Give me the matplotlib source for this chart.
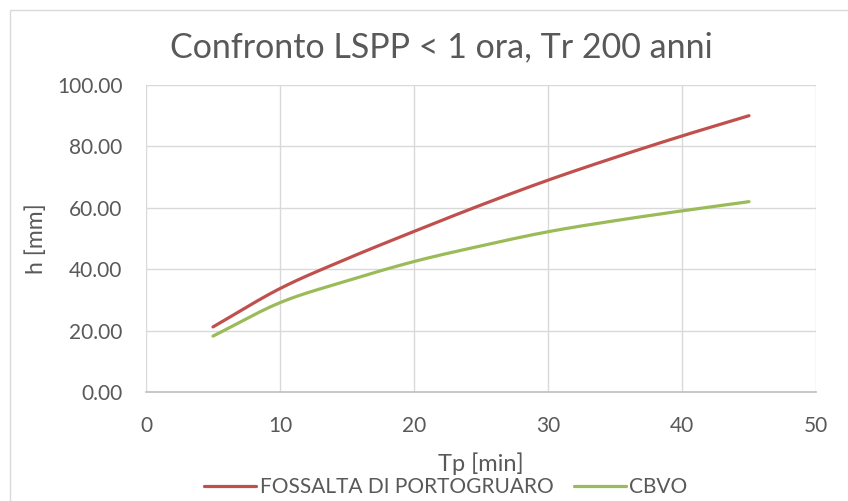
import numpy as np
import matplotlib
matplotlib.use("Agg")
import matplotlib.pyplot as plt
from matplotlib.patches import Rectangle

tp = [5, 10, 15, 20, 25, 30, 35, 40, 45]
fossalta = [21.2, 33.7, 43.4, 52.3, 60.9, 69.0, 76.4, 83.4, 90.0]
cbvo = [18.2, 29.1, 36.2, 42.5, 47.6, 52.2, 55.8, 59.0, 62.0]
series_names = ["FOSSALTA DI PORTOGRUARO", "CBVO"]
colors = ["#C0504D", "#9BBB59"]
title = "Confronto LSPP < 1 ora, Tr 200 anni"
x_ticks = [0, 10, 20, 30, 40, 50]
y_ticks = [0, 20, 40, 60, 80, 100]


def catmull_rom(x, y, n=30):
    x = np.asarray(x, float)
    y = np.asarray(y, float)
    px = np.concatenate([[2 * x[0] - x[1]], x, [2 * x[-1] - x[-2]]])
    py = np.concatenate([[2 * y[0] - y[1]], y, [2 * y[-1] - y[-2]]])
    xs, ys = [], []
    for i in range(1, len(px) - 2):
        t = np.linspace(0, 1, n, endpoint=False)
        p0, p1, p2, p3 = (np.array([px[j], py[j]]) for j in range(i - 1, i + 3))
        t2, t3 = t * t, t * t * t
        pts = 0.5 * ((2 * p1)[:, None] + (-p0 + p2)[:, None] * t
                     + (2 * p0 - 5 * p1 + 4 * p2 - p3)[:, None] * t2
                     + (-p0 + 3 * p1 - 3 * p2 + p3)[:, None] * t3)
        xs.extend(pts[0]); ys.extend(pts[1])
    xs.append(x[-1]); ys.append(y[-1])
    return np.array(xs), np.array(ys)


plt.rcParams['font.family'] = ['Lato', 'DejaVu Sans']
txt = "#595959"

fig = plt.figure(figsize=(8.48, 5.01), dpi=100)
fig.patches.append(Rectangle((10 / 848, -0.2), 1.2, 1.2 - 10 / 501,
                             transform=fig.transFigure, fill=False,
                             edgecolor="#d9d9d9", linewidth=1.0))
ax = fig.add_axes([146 / 848, 1 - 392 / 501, (816 - 146) / 848, (392 - 85) / 501])

for vals, name, c in zip([fossalta, cbvo], series_names, colors):
    xs, ys = catmull_rom(tp, vals)
    ax.plot(xs, ys, color=c, linewidth=2.3, label=name, solid_capstyle='round')

ax.set_xlim(0, 50)
ax.set_ylim(0, 100)
ax.set_xticks(x_ticks)
ax.set_yticks(y_ticks)
ax.set_yticklabels([f"{v:.2f}" for v in y_ticks])
ax.grid(True, color="#d9d9d9", linewidth=1.0)
ax.set_axisbelow(True)
for s in ["top", "right", "left"]:
    ax.spines[s].set_visible(False)
ax.spines["bottom"].set_color("#bfbfbf")
ax.spines["bottom"].set_linewidth(1.2)
ax.tick_params(length=0, labelsize=15, colors=txt)
ax.tick_params(axis='y', pad=17)
ax.tick_params(axis='x', pad=17)

ax.set_ylabel("h [mm]", fontsize=16.5, color=txt)
ax.yaxis.set_label_coords((47 - 146) / 670, 0.5)
fig.text(481 / 848, 1 - 464 / 501, "Tp [min]", ha="center", va="center", fontsize=17, color=txt)
fig.text(441 / 848, 1 - 47 / 501, title, ha="center", va="center", fontsize=24.5, color=txt)

leg = fig.legend(loc="center", bbox_to_anchor=(446 / 848, 1 - 487 / 501), ncol=2, frameon=False,
                 fontsize=15, handlelength=2.5, handletextpad=0.15, columnspacing=1.0,
                 labelcolor=txt, borderpad=0)

fig.savefig("out.png", dpi=100)
